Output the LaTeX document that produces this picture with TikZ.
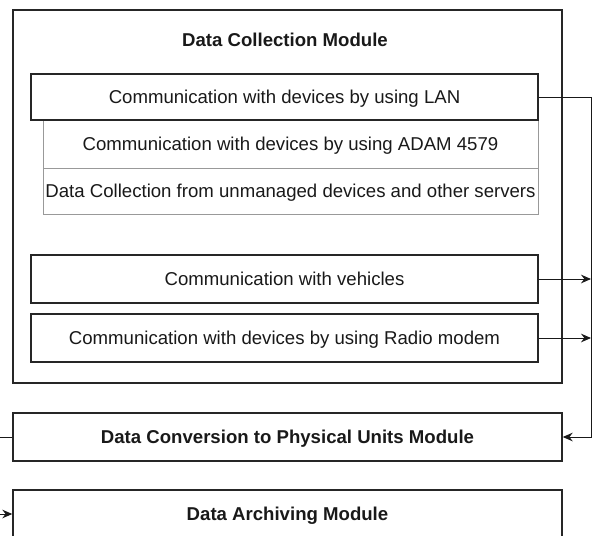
\documentclass[tikz,border=0pt]{standalone}
\usepackage{fontspec}
\setmainfont{Liberation Sans}
\usetikzlibrary{arrows.meta}
\begin{document}
\begin{tikzpicture}[x=0.75pt,y=-0.75pt,
  every node/.style={font=\fontsize{13.95pt}{16pt}\selectfont, text=black!90, text depth=0pt},
  modbox/.style={draw=black!85, line width=1.1pt, rectangle, inner sep=0pt},
  subbox/.style={draw=black!85, line width=0.9pt, fill=white, rectangle, inner sep=0pt},
  listbox/.style={draw=black!40, line width=0.6pt, rectangle, inner sep=0pt},
  conn/.style={draw=black!90, line width=0.75pt},
  arr/.style={conn, -{Stealth[length=7.5pt,width=6.5pt,inset=2.5pt]}},
  title/.style={font=\fontsize{13.95pt}{16pt}\selectfont\bfseries}]
\useasboundingbox (0,0) rectangle (595,535);

% collection module frame and heading
\node[modbox, minimum width=411.75pt, minimum height=279.75pt] (coll) at (287.5,196.5) {};
\node[title] (colltitle) at (285,40) {Data Collection Module};

% LAN entry and its list of sub-items
\node[listbox, minimum width=371.25pt, minimum height=36pt] (adam) at (290.5,144) {Communication with devices by using ADAM 4579};
\node[listbox, minimum width=371.25pt, minimum height=34.5pt] (unman) at (290.5,191) {Data Collection from unmanaged devices and other servers};
\node[subbox, minimum width=380.25pt, minimum height=34.5pt] (lan) at (284.5,97) {Communication with devices by using LAN};

% other channels
\node[subbox, minimum width=380.25pt, minimum height=36pt] (veh) at (284.5,279) {Communication with vehicles};
\node[subbox, minimum width=380.25pt, minimum height=36pt] (radio) at (284.5,338) {Communication with devices by using Radio modem};

% downstream modules
\node[modbox, minimum width=411.75pt, minimum height=36pt] (conv) at (287.5,437) {};
\node[title] (convtitle) at (conv.center) {Data Conversion to Physical Units Module};
\node[modbox, minimum width=411.75pt, minimum height=36pt] (arch) at (287.5,514) {};
\node[title] (archtitle) at (arch.center) {Data Archiving Module};

% collecting rail on the right, return rail on the left
\coordinate (rail) at (591,97);
\coordinate (lrail) at (-20,437);
\draw[arr] (lan.east) -- (lan.east -| rail) |- (conv.east);
\draw[arr] (veh.east) -- (veh.east -| rail);
\draw[arr] (radio.east) -- (radio.east -| rail);
\draw[arr] (conv.west) -- (conv.west -| lrail) |- (arch.west);
\end{tikzpicture}
\end{document}
